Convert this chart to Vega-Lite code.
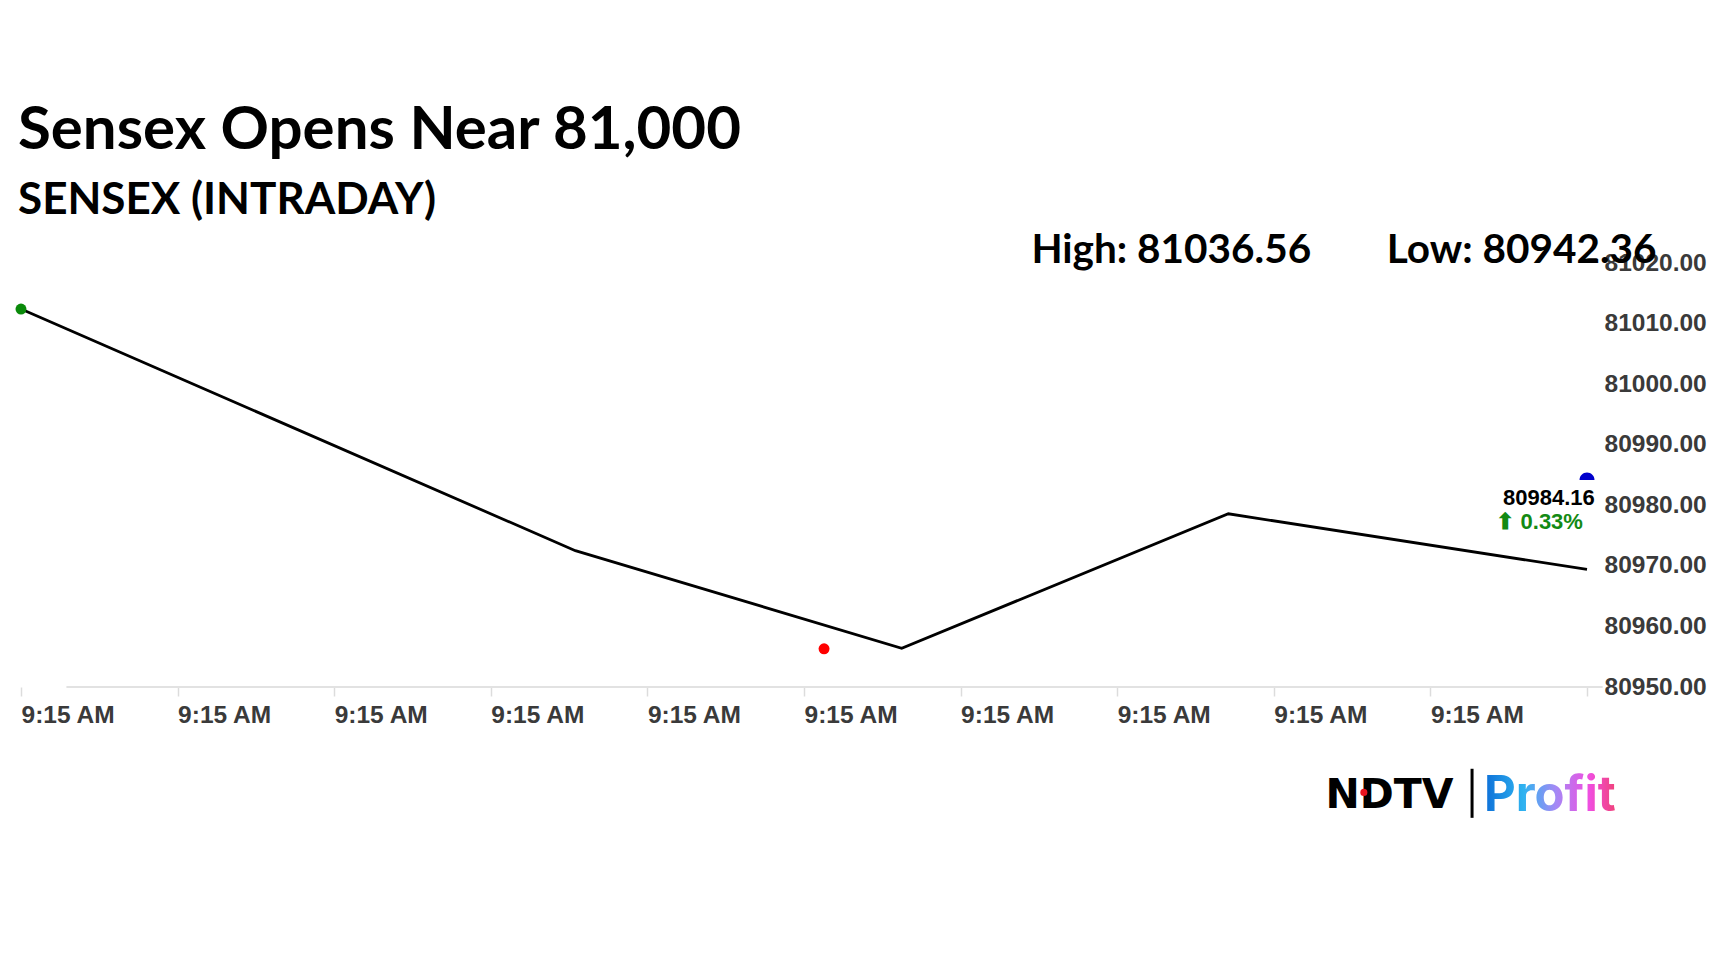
{
  "$schema": "https://vega.github.io/schema/vega-lite/v6.json",
  "width": 1566,
  "height": 424,
  "autosize": {"type": "none"},
  "padding": {"left": 21, "top": 263, "right": 141, "bottom": 285},
  "background": "white",
  "config": {"view": {"stroke": null}},
  "title": {
    "text": "Sensex Opens Near 81,000",
    "subtitle": "SENSEX (INTRADAY)",
    "anchor": "start",
    "frame": "group",
    "font": "Lato",
    "fontSize": 60,
    "fontWeight": "bold",
    "color": "#000000",
    "subtitleFont": "Lato",
    "subtitleFontSize": 44,
    "subtitleFontWeight": "bold",
    "subtitleColor": "#000000",
    "subtitlePadding": 17,
    "offset": 7,
    "dx": -3
  },
  "datasets": {
    "series": [
      {"t": 0, "value": 81012.4},
      {"t": 3.54, "value": 80972.5},
      {"t": 5.624, "value": 80956.4},
      {"t": 7.71, "value": 80978.6},
      {"t": 10, "value": 80969.4}
    ],
    "markers": [
      {"t": 0, "value": 81012.4, "kind": "open"},
      {"t": 5.128, "value": 80956.3, "kind": "low"}
    ],
    "current": [
      {"t": 10, "value": 80984.16}
    ]
  },
  "layer": [
    {
      "data": {"values": [{}]},
      "mark": {"type": "rule", "color": "#e2e2e2", "strokeWidth": 2},
      "encoding": {
        "x": {"datum": 0.29, "type": "quantitative", "scale": {"domain": [0, 10], "nice": false, "zero": false},
          "axis": {
            "values": [0, 1, 2, 3, 4, 5, 6, 7, 8, 9, 10],
            "labelExpr": "datum.value < 10 ? '9:15 AM' : ''",
            "title": null,
            "domain": false,
            "grid": false,
            "ticks": true,
            "tickColor": "#dcdcdc",
            "tickSize": 9,
            "tickWidth": 1.5,
            "labelFont": "Liberation Sans",
            "labelFontSize": 24.5,
            "labelFontWeight": "bold",
            "labelColor": "#3a3a3a",
            "labelAlign": "left",
            "labelDx": -4,
            "labelPadding": 7,
            "labelBaseline": "top",
            "labelFlush": false,
            "labelOverlap": false
          }
        },
        "x2": {"datum": 10.1},
        "y": {"datum": 80950, "type": "quantitative", "scale": {"domain": [80950, 81020], "nice": false, "zero": false},
          "axis": {
            "orient": "right",
            "values": [80950, 80960, 80970, 80980, 80990, 81000, 81010, 81020],
            "format": ".2f",
            "title": null,
            "domain": false,
            "grid": false,
            "ticks": false,
            "labelFont": "Liberation Sans",
            "labelFontSize": 24.5,
            "labelFontWeight": "bold",
            "labelColor": "#3a3a3a",
            "labelPadding": 17,
            "labelAlign": "left",
            "labelBaseline": "middle",
            "labelFlush": false,
            "labelOverlap": false
          }
        }
      }
    },
    {
      "data": {"name": "series"},
      "mark": {"type": "line", "color": "#000000", "strokeWidth": 2.8},
      "encoding": {
        "x": {"field": "t", "type": "quantitative"},
        "y": {"field": "value", "type": "quantitative"}
      }
    },
    {
      "data": {"name": "markers"},
      "mark": {"type": "point", "filled": true, "size": 120, "opacity": 1},
      "encoding": {
        "x": {"field": "t", "type": "quantitative"},
        "y": {"field": "value", "type": "quantitative"},
        "color": {"field": "kind", "type": "nominal", "scale": {"domain": ["open", "low"], "range": ["#0a8a0a", "#ff0000"]}, "legend": null}
      }
    },
    {
      "data": {"name": "current"},
      "mark": {"type": "point", "filled": true, "shape": "M-1,0A1,1,0,0,1,1,0Z", "size": 225, "fill": "#0000cc", "opacity": 1},
      "encoding": {
        "x": {"field": "t", "type": "quantitative"},
        "y": {"field": "value", "type": "quantitative"}
      }
    },
    {
      "data": {"values": [{"label": "80984.16"}]},
      "mark": {"type": "text", "align": "right", "baseline": "alphabetic", "font": "Liberation Sans", "fontSize": 22, "fontWeight": "bold", "color": "#000000"},
      "encoding": {
        "x": {"datum": 10.05},
        "y": {"datum": 80980.1},
        "text": {"field": "label"}
      }
    },
    {
      "data": {"values": [{"label": "⬆ 0.33%"}]},
      "mark": {"type": "text", "align": "right", "baseline": "alphabetic", "font": "Liberation Sans", "fontSize": 22, "fontWeight": "bold", "color": "#138a13"},
      "encoding": {
        "x": {"datum": 9.974},
        "y": {"datum": 80976.1},
        "text": {"field": "label"}
      }
    },
    {
      "data": {"values": [{"label": "High: 81036.56"}]},
      "mark": {"type": "text", "align": "left", "baseline": "alphabetic", "font": "Lato", "fontSize": 40.5, "fontWeight": "bold", "color": "#000000"},
      "encoding": {
        "x": {"datum": 6.452},
        "y": {"datum": 81020},
        "text": {"field": "label"}
      }
    },
    {
      "data": {"values": [{"label": "Low: 80942.36"}]},
      "mark": {"type": "text", "align": "left", "baseline": "alphabetic", "font": "Lato", "fontSize": 40.5, "fontWeight": "bold", "color": "#000000"},
      "encoding": {
        "x": {"datum": 8.722},
        "y": {"datum": 81020},
        "text": {"field": "label"}
      }
    },
    {
      "data": {"values": [{"label": "NDTV"}]},
      "mark": {"type": "text", "align": "left", "baseline": "alphabetic", "font": "DejaVu Sans", "fontSize": 41, "fontWeight": "bold", "color": "#000000"},
      "encoding": {
        "x": {"datum": 8.33},
        "y": {"datum": 80930.1},
        "text": {"field": "label"}
      }
    },
    {
      "data": {"values": [{"label": "dot"}]},
      "mark": {"type": "point", "filled": true, "size": 50, "color": "#e8141e", "opacity": 1},
      "encoding": {
        "x": {"datum": 8.575},
        "y": {"datum": 80932.6}
      }
    },
    {
      "data": {"values": [{"label": "bar"}]},
      "mark": {"type": "rule", "color": "#000000", "strokeWidth": 3},
      "encoding": {
        "x": {"datum": 9.266},
        "y": {"datum": 80936.5},
        "y2": {"datum": 80928.4}
      }
    },
    {
      "data": {"values": [{"label": "Profit"}]},
      "mark": {
        "type": "text", "align": "left", "baseline": "alphabetic", "font": "Inter", "fontSize": 49, "fontWeight": "bold",
        "fill": {
          "gradient": "linear", "x1": 0, "y1": 0, "x2": 1, "y2": 0,
          "stops": [
            {"offset": 0, "color": "#0d6fd8"},
            {"offset": 0.3, "color": "#2fb3f0"},
            {"offset": 0.55, "color": "#a688f5"},
            {"offset": 0.8, "color": "#f04ee0"},
            {"offset": 1, "color": "#f0427a"}
          ]
        }
      },
      "encoding": {
        "x": {"datum": 9.342},
        "y": {"datum": 80929.6},
        "text": {"field": "label"}
      }
    }
  ]
}
